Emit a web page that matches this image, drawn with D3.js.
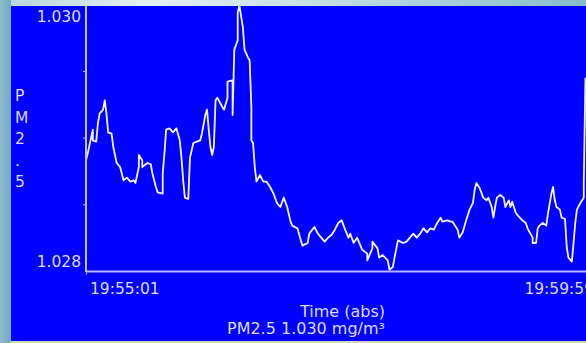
<!DOCTYPE html>
<html>
<head>
<meta charset="utf-8">
<script src="https://cdn.jsdelivr.net/npm/d3@7/dist/d3.min.js"></script>
<style>
  html, body { margin: 0; padding: 0; background: #7aaec4; }
  svg { display: block; }
  text { font-family: "DejaVu Sans", Verdana, sans-serif; fill: #dcdcff; }
</style>
</head>
<body>
<svg id="chart" width="586" height="343"></svg>
<script>
// PM2.5 readings, seconds after 19:55:01, in mg/m³
const seconds = [0,1,4,4,6,7,8,10,11,12,13,15,16,18,20,22,24,26,28,29,31,31,33,33,36,38,39,41,42,45,45,46,47,49,51,53,55,56,57,58,60,61,63,65,67,68,70,71,72,73,74,75,76,77,80,81,83,83,86,86,87,89,89,90,92,93,95,96,97,97,98,99,100,102,104,106,108,110,112,114,116,118,120,121,124,126,127,130,131,134,136,138,140,142,144,146,148,150,152,154,155,157,159,161,162,165,165,168,168,171,172,174,177,178,180,181,183,186,188,190,192,194,196,198,200,202,204,206,208,209,212,214,215,218,219,221,223,225,227,228,229,231,233,235,236,238,239,240,241,243,245,246,248,249,250,252,253,256,258,259,262,262,264,265,266,268,270,271,273,274,275,276,278,279,281,282,283,285,286,287,288,290,292,292,293];
const pm25 = [1.02883,1.02888,1.02906,1.02898,1.02897,1.02911,1.02918,1.02921,1.02928,1.02918,1.02904,1.02903,1.02893,1.02881,1.02878,1.02868,1.02870,1.02867,1.02868,1.02866,1.02878,1.02887,1.02883,1.02878,1.02881,1.02880,1.02873,1.02863,1.02859,1.02858,1.02873,1.02888,1.02906,1.02907,1.02904,1.02907,1.02898,1.02885,1.02868,1.02855,1.02854,1.02885,1.02896,1.02897,1.02898,1.02903,1.02917,1.02921,1.02906,1.02893,1.02887,1.02893,1.02928,1.02930,1.02923,1.02921,1.02930,1.02942,1.02943,1.02917,1.02966,1.02973,1.02994,1.02999,1.02983,1.02966,1.02960,1.02958,1.02923,1.02898,1.02896,1.02878,1.02867,1.02872,1.02867,1.02867,1.02863,1.02858,1.02851,1.02848,1.02855,1.02848,1.02837,1.02834,1.02832,1.02823,1.02819,1.02821,1.02828,1.02833,1.02828,1.02825,1.02822,1.02825,1.02827,1.02831,1.02836,1.02838,1.02831,1.02825,1.02828,1.02821,1.02825,1.02819,1.02816,1.02813,1.02808,1.02817,1.02822,1.02817,1.02810,1.02812,1.02808,1.02801,1.02803,1.02810,1.02823,1.02821,1.02822,1.02825,1.02828,1.02825,1.02828,1.02832,1.02829,1.02832,1.02831,1.02836,1.02840,1.02837,1.02838,1.02837,1.02837,1.02831,1.02825,1.02829,1.02838,1.02846,1.02851,1.02861,1.02866,1.02862,1.02855,1.02853,1.02855,1.02848,1.02840,1.02848,1.02855,1.02857,1.02855,1.02848,1.02853,1.02848,1.02852,1.02844,1.02842,1.02838,1.02836,1.02832,1.02825,1.02821,1.02821,1.02832,1.02834,1.02836,1.02834,1.02843,1.02858,1.02863,1.02853,1.02848,1.02846,1.02840,1.02839,1.02818,1.02810,1.02807,1.02821,1.02836,1.02846,1.02851,1.02855,1.02866,1.02945];

// axis settings
const yDomain = [1.028, 1.030];
const yMinorTicks = [1.0285, 1.029, 1.0295];
const yTickLabels = ["1.028", "1.030"];
const xDomain = [0, 298];
const xTickLabels = ["19:55:01", "19:59:59"];
const yTitle = ["P", "M", "2", ".", "5"];
const xTitle = "Time (abs)";
const readout = "PM2.5 1.030 mg/m³";

const svg = d3.select("#chart");
const W = 586, H = 343;
const plot = { left: 86, right: 594, top: 4.3, bottom: 271 };

const x = d3.scaleLinear().domain(xDomain).range([plot.left, plot.right]);
const y = d3.scaleLinear().domain(yDomain).range([plot.bottom, plot.top]);

// window frame and panel
const defs = svg.append("defs");
const topGrad = defs.append("linearGradient").attr("id", "topStrip");
topGrad.append("stop").attr("offset", "0%").attr("stop-color", "#b4d4dc");
topGrad.append("stop").attr("offset", "25%").attr("stop-color", "#e4f0f2");
topGrad.append("stop").attr("offset", "55%").attr("stop-color", "#c4dee4");
topGrad.append("stop").attr("offset", "100%").attr("stop-color", "#86bccc");
const leftGrad = defs.append("linearGradient").attr("id", "leftStrip");
leftGrad.append("stop").attr("offset", "0%").attr("stop-color", "#8cbccc");
leftGrad.append("stop").attr("offset", "100%").attr("stop-color", "#74a8c0");

svg.append("rect").attr("x", 11).attr("y", 6).attr("width", W - 11).attr("height", 335).attr("fill", "#0000ff");

defs.append("clipPath").attr("id", "plotClip")
  .append("rect").attr("x", plot.left).attr("y", 0).attr("width", plot.right - plot.left).attr("height", plot.bottom);

// data line
const line = d3.line()
  .x((d, i) => x(seconds[i]))
  .y(d => y(d));

svg.append("path")
  .datum(pm25)
  .attr("clip-path", "url(#plotClip)")
  .attr("fill", "none")
  .attr("stroke", "#f4f4ff")
  .attr("stroke-width", 1.8)
  .attr("stroke-linejoin", "round")
  .attr("d", line);

// y axis with minor ticks
const yAxis = d3.axisLeft(y).tickValues(yMinorTicks).tickSize(3).tickFormat("");
const gy = svg.append("g").attr("transform", `translate(${plot.left},0)`).call(yAxis);
gy.select(".domain").remove();
gy.selectAll(".tick line").attr("stroke", "#c0c0ff").attr("stroke-width", 1);
svg.append("line")
  .attr("x1", plot.left).attr("x2", plot.left)
  .attr("y1", 6).attr("y2", plot.bottom + 1)
  .attr("stroke", "#c4c4ff").attr("stroke-width", 2);

// x axis
const xAxis = d3.axisBottom(x).tickValues([xDomain[0]]).tickSize(3).tickFormat("");
const gx = svg.append("g").attr("transform", `translate(0,${plot.bottom + 1})`).call(xAxis);
gx.select(".domain").remove();
gx.selectAll(".tick line").attr("stroke", "#c0c0ff").attr("stroke-width", 1);
svg.append("line")
  .attr("x1", plot.left).attr("x2", W)
  .attr("y1", plot.bottom + 0.5).attr("y2", plot.bottom + 0.5)
  .attr("stroke", "#b4b4ff").attr("stroke-width", 2);

// y tick labels, kept inside the axis extent
svg.append("text").text(yTickLabels[1])
  .attr("x", plot.left - 5).attr("y", y(yDomain[1]) + 17.5)
  .attr("text-anchor", "end").attr("font-size", 15.5);
svg.append("text").text(yTickLabels[0])
  .attr("x", plot.left - 5).attr("y", y(yDomain[0]) - 4.5)
  .attr("text-anchor", "end").attr("font-size", 15.5);

// x tick labels
svg.append("text").text(xTickLabels[0])
  .attr("x", x(xDomain[0]) + 4).attr("y", 294)
  .attr("text-anchor", "start").attr("font-size", 15.5);
svg.append("text").text(xTickLabels[1])
  .attr("x", x(xDomain[1])).attr("y", 294)
  .attr("text-anchor", "end").attr("font-size", 15.5);

// stacked y title
svg.append("g").selectAll("text").data(yTitle).join("text")
  .text(d => d)
  .attr("x", 15)
  .attr("y", (d, i) => 101 + i * 21.5)
  .attr("font-size", 15.5);

// x title and current reading
svg.append("text").text(xTitle)
  .attr("x", 385).attr("y", 317).attr("text-anchor", "end").attr("font-size", 16);
svg.append("text").text(readout)
  .attr("x", 385).attr("y", 334).attr("text-anchor", "end").attr("font-size", 16);

// frame strips
svg.append("rect").attr("x", 0).attr("y", 0).attr("width", W).attr("height", 6).attr("fill", "url(#topStrip)");
svg.append("rect").attr("x", 0).attr("y", 0).attr("width", 11).attr("height", H).attr("fill", "url(#leftStrip)");
svg.append("rect").attr("x", 11).attr("y", 341).attr("width", W - 11).attr("height", 2).attr("fill", "#d8d0c0");
</script>
</body>
</html>
